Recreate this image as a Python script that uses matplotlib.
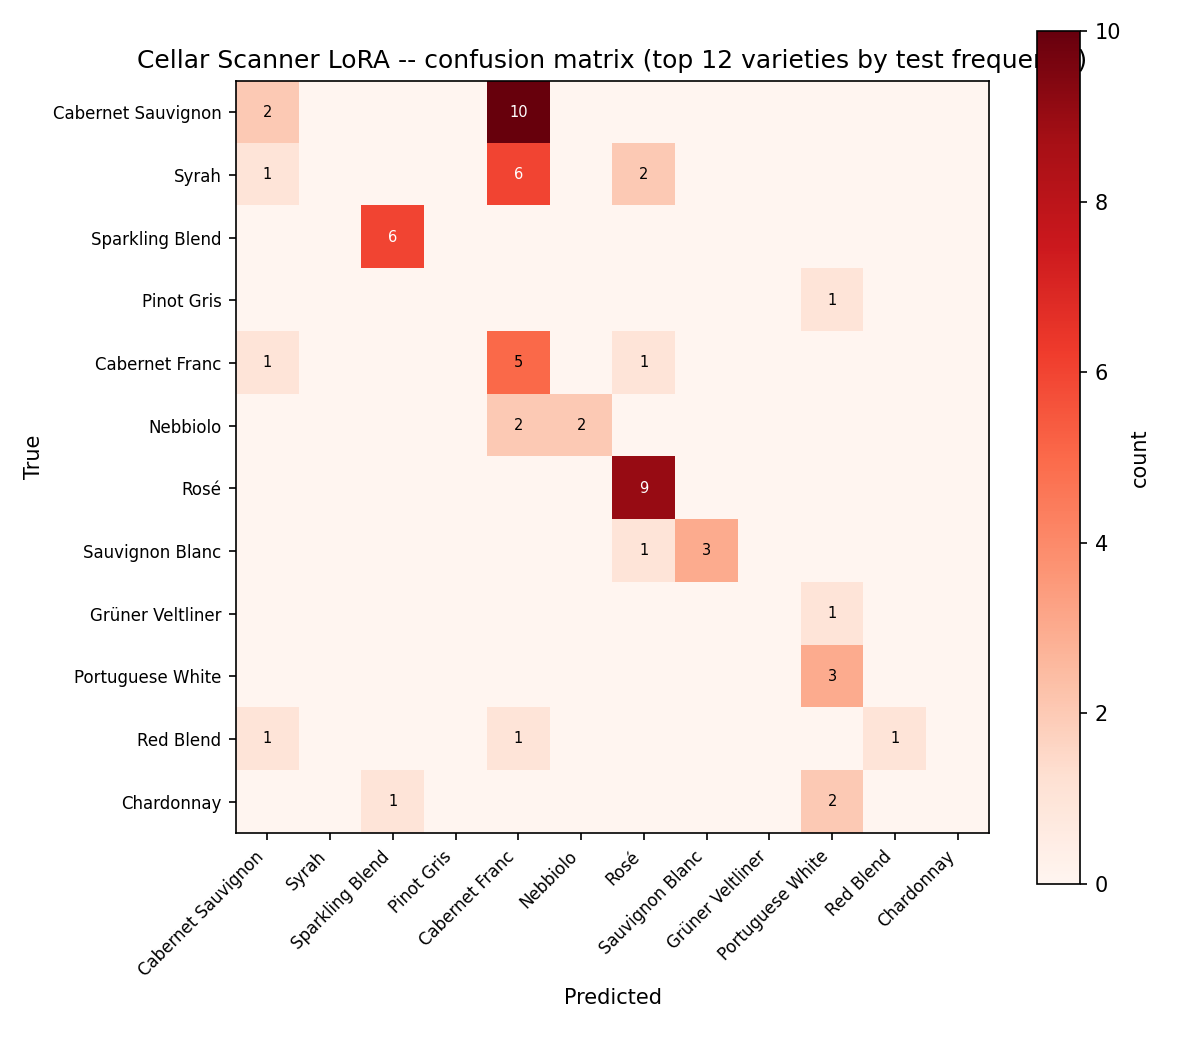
import matplotlib
matplotlib.use("Agg")
import matplotlib.pyplot as plt
import numpy as np

labels = ["Cabernet Sauvignon", "Syrah", "Sparkling Blend", "Pinot Gris",
          "Cabernet Franc", "Nebbiolo", "Rosé", "Sauvignon Blanc",
          "Grüner Veltliner", "Portuguese White", "Red Blend", "Chardonnay"]

# rows = true, cols = predicted
row_cab_sauv   = [2, 0, 0, 0, 10, 0, 0, 0, 0, 0, 0, 0]
row_syrah      = [1, 0, 0, 0, 6, 0, 2, 0, 0, 0, 0, 0]
row_sparkling  = [0, 0, 6, 0, 0, 0, 0, 0, 0, 0, 0, 0]
row_pinot_gris = [0, 0, 0, 0, 0, 0, 0, 0, 0, 1, 0, 0]
row_cab_franc  = [1, 0, 0, 0, 5, 0, 1, 0, 0, 0, 0, 0]
row_nebbiolo   = [0, 0, 0, 0, 2, 2, 0, 0, 0, 0, 0, 0]
row_rose       = [0, 0, 0, 0, 0, 0, 9, 0, 0, 0, 0, 0]
row_sauv_blanc = [0, 0, 0, 0, 0, 0, 1, 3, 0, 0, 0, 0]
row_gruner     = [0, 0, 0, 0, 0, 0, 0, 0, 0, 1, 0, 0]
row_portuguese = [0, 0, 0, 0, 0, 0, 0, 0, 0, 3, 0, 0]
row_red_blend  = [1, 0, 0, 0, 1, 0, 0, 0, 0, 0, 1, 0]
row_chardonnay = [0, 0, 1, 0, 0, 0, 0, 0, 0, 2, 0, 0]

cm = np.array([row_cab_sauv, row_syrah, row_sparkling, row_pinot_gris,
               row_cab_franc, row_nebbiolo, row_rose, row_sauv_blanc,
               row_gruner, row_portuguese, row_red_blend, row_chardonnay])

fig = plt.figure(figsize=(8, 7), dpi=150)
ax = fig.add_axes([0.1967, 0.2067, 0.6275, 0.7162])
im = ax.imshow(cm, cmap="Reds", vmin=0, vmax=cm.max(), aspect="auto")

n = len(labels)
ax.set_xticks(range(n))
ax.set_yticks(range(n))
ax.set_xticklabels(labels, rotation=45, ha="right", fontsize=8)
ax.set_yticklabels(labels, fontsize=8)
ax.set_xlabel("Predicted")
ax.set_ylabel("True")
ax.set_title("Cellar Scanner LoRA -- confusion matrix (top 12 varieties by test frequency)",
             fontsize=12)

thresh = cm.max() / 2
for i in range(n):
    for j in range(n):
        v = cm[i, j]
        if v > 0:
            ax.text(j, i, str(v), ha="center", va="center", fontsize=7,
                    color="white" if v > thresh else "black")

cax = fig.add_axes([0.8642, 0.158, 0.036, 0.8124])
cb = fig.colorbar(im, cax=cax)
cb.set_label("count")

fig.savefig("out.png", dpi=150)
plt.close(fig)
